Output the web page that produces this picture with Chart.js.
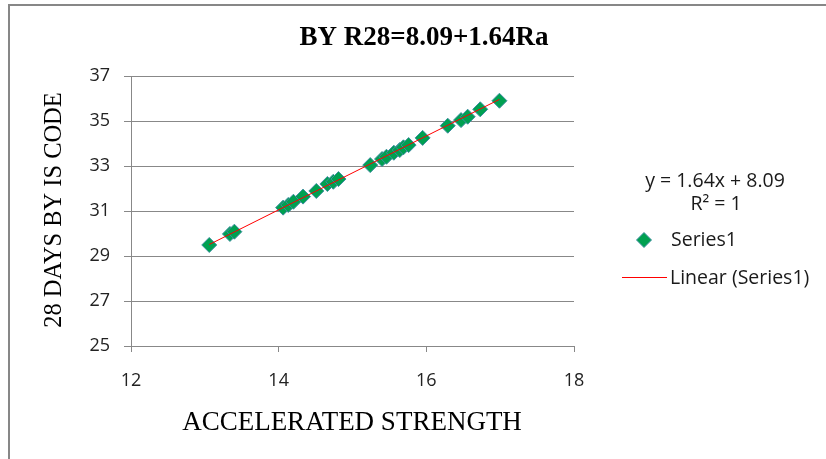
<!DOCTYPE html>
<html>
<head>
<meta charset="utf-8">
<script src="https://cdn.jsdelivr.net/npm/chart.js@4.4.1/dist/chart.umd.min.js"></script>
<style>
  html, body { margin: 0; padding: 0; background: #fff; }
  #wrap { width: 826px; height: 459px; position: relative; }
</style>
</head>
<body>
<div id="wrap"><canvas id="c" width="826" height="459"></canvas></div>
<script>
// accelerated strength (x) vs 28 days strength by IS code (y)
const strengthX = [13.06, 13.34, 13.40, 14.06, 14.13, 14.20, 14.33, 14.51, 14.66, 14.74, 14.81,
  15.24, 15.40, 15.46, 15.56, 15.64, 15.69, 15.76, 15.95, 16.29, 16.47, 16.56, 16.73, 16.99];
const codeY = [29.49, 29.98, 30.08, 31.15, 31.27, 31.41, 31.64, 31.89, 32.20, 32.30, 32.42,
  33.04, 33.31, 33.41, 33.59, 33.71, 33.83, 33.93, 34.25, 34.79, 35.04, 35.19, 35.52, 35.90];

// linear trendline ends
const trendX = [13.06, 16.99];
const trendY = [29.51, 35.96];

const xTicks = [12, 14, 16, 18];
const yTicks = [25, 27, 29, 31, 33, 35, 37];

const titleText = 'BY R28=8.09+1.64Ra';
const xTitle = 'ACCELERATED STRENGTH';
const yTitle = '28 DAYS BY IS CODE';
const eqText = 'y = 1.64x + 8.09';
const r2Text = 'R\u00B2 = 1';
const seriesName = 'Series1';
const trendName = 'Linear (Series1)';

const GREEN = '#00a050';
const GRID = '#888888';
const SERIF = '"Liberation Serif", "Times New Roman", serif';
const SANS = '"Open Sans", "Noto Sans", sans-serif';

const decorPlugin = {
  id: 'decor',
  beforeDraw(chart) {
    const ctx = chart.ctx;
    ctx.save();
    ctx.fillStyle = '#fff';
    ctx.fillRect(0, 0, chart.width, chart.height);
    // outer frame, runs past the right and bottom edges
    ctx.strokeStyle = '#878787';
    ctx.lineWidth = 2;
    ctx.strokeRect(9, 5, chart.width + 20, chart.height + 20);
    ctx.restore();
  },
  afterDraw(chart) {
    const ctx = chart.ctx;
    ctx.save();
    ctx.fillStyle = '#000';
    ctx.textAlign = 'center';
    ctx.textBaseline = 'middle';

    ctx.font = 'bold 27px ' + SERIF;
    ctx.fillText(titleText, 424, 38);

    ctx.font = '27px ' + SERIF;
    ctx.fillText(xTitle, 352, 423);

    ctx.save();
    ctx.translate(54, 210);
    ctx.rotate(-Math.PI / 2);
    ctx.scale(0.94, 1);
    ctx.font = '26px ' + SERIF;
    ctx.fillText(yTitle, 0, 0);
    ctx.restore();

    // legend + trendline label
    ctx.fillStyle = '#1a1a1a';
    ctx.font = '19.5px ' + SANS;
    ctx.fillText(eqText, 715, 181);
    ctx.fillText(r2Text, 716, 204);

    ctx.textAlign = 'left';
    ctx.fillText(seriesName, 671, 240);
    ctx.fillText(trendName, 670, 278);

    // legend marker
    ctx.fillStyle = GREEN;
    ctx.strokeStyle = '#3d8fa0';
    ctx.lineWidth = 1;
    ctx.beginPath();
    ctx.moveTo(644, 232.5);
    ctx.lineTo(651.5, 240);
    ctx.lineTo(644, 247.5);
    ctx.lineTo(636.5, 240);
    ctx.closePath();
    ctx.fill();
    ctx.stroke();

    ctx.strokeStyle = '#ff0000';
    ctx.lineWidth = 1.2;
    ctx.beginPath();
    ctx.moveTo(622, 277.5);
    ctx.lineTo(667, 277.5);
    ctx.stroke();
    ctx.restore();
  }
};

new Chart(document.getElementById('c'), {
  type: 'scatter',
  data: {
    datasets: [
      {
        type: 'line',
        label: trendName,
        data: trendX.map((x, i) => ({ x: x, y: trendY[i] })),
        borderColor: '#ff0000',
        borderWidth: 1,
        pointRadius: 0,
        fill: false,
        order: 0
      },
      {
        label: seriesName,
        data: strengthX.map((x, i) => ({ x: x, y: codeY[i] })),
        pointStyle: 'rectRot',
        pointRadius: 7.5,
        backgroundColor: GREEN,
        borderColor: '#3d8fa0',
        borderWidth: 1,
        order: 1
      }
    ]
  },
  options: {
    responsive: false,
    devicePixelRatio: 1,
    animation: false,
    layout: { padding: { top: 76, right: 252, left: 0, bottom: 0 } },
    plugins: { legend: { display: false }, tooltip: { enabled: false }, title: { display: false } },
    scales: {
      x: {
        type: 'linear',
        min: 12, max: 18,
        afterFit: s => { s.height = 113; },
        afterBuildTicks: s => { s.ticks = xTicks.map(v => ({ value: v })); },
        grid: { drawOnChartArea: false, drawTicks: true, tickLength: 6, color: GRID },
        border: { display: true, color: GRID },
        ticks: { font: { family: SANS, size: 18 }, color: '#222', padding: 18 }
      },
      y: {
        type: 'linear',
        min: 25, max: 37,
        afterFit: s => { s.width = 131; },
        afterBuildTicks: s => { s.ticks = yTicks.map(v => ({ value: v })); },
        grid: { color: GRID, drawTicks: true, tickLength: 7 },
        border: { display: true, color: GRID },
        ticks: { font: { family: SANS, size: 18 }, color: '#222', padding: 14 }
      }
    }
  },
  plugins: [decorPlugin]
});
</script>
</body>
</html>
